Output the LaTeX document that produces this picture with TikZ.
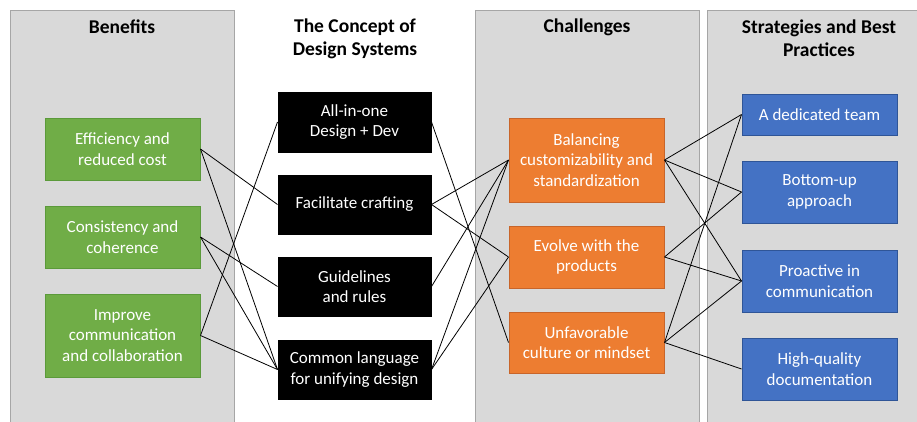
\documentclass[tikz,border=0pt]{standalone}
\usepackage{fontspec}
\setmainfont{Carlito}
\definecolor{panelfill}{HTML}{D9D9D9}
\definecolor{panelline}{HTML}{A6A6A6}
\definecolor{gfill}{HTML}{70AD47}
\definecolor{gline}{HTML}{5B9A3A}
\definecolor{ofill}{HTML}{ED7D31}
\definecolor{oline}{HTML}{C8652A}
\definecolor{bfill}{HTML}{4472C4}
\definecolor{bline}{HTML}{2F5597}
\begin{document}
\begin{tikzpicture}[x=1pt,y=-1pt,
  panel/.style={fill=panelfill,draw=panelline,line width=1pt},
  ttl/.style={font=\fontsize{19.5}{23}\selectfont\bfseries,align=center,text=black},
  box/.style={rectangle,line width=1pt,text=white,align=center,inner sep=0pt,
     font=\fontsize{17}{20.5}\selectfont},
  gbox/.style={box,fill=gfill,draw=gline,minimum width=155pt},
  kbox/.style={box,fill=black,draw=black,minimum width=153pt,minimum height=59pt},
  obox/.style={box,fill=ofill,draw=oline,minimum width=155pt},
  bbox/.style={box,fill=bfill,draw=bline,minimum width=155pt},
  link/.style={draw=black,line width=0.8pt}]
\useasboundingbox (0,0) rectangle (917,421);
\fill[white] (0,0) rectangle (917,421);
% panels
\draw[panel] (10,10) rectangle (234,430);
\draw[panel] (475,10) rectangle (699,430);
\draw[panel] (707,10) rectangle (930,430);
% titles
\node[ttl] (t1) at (122,27) {Benefits};
\node[ttl] (t2) at (355,38.5) {The Concept of\\Design Systems};
\node[ttl] (t3) at (587,27) {Challenges};
\node[ttl] (t4) at (819,38.5) {Strategies and Best\\Practices};
% green
\node[gbox,minimum height=62pt] (g1) at (122.5,149) {Efficiency and\\reduced cost};
\node[gbox,minimum height=62pt] (g2) at (122.5,237) {Consistency and\\coherence};
\node[gbox,minimum height=83pt] (g3) at (122.5,335.5) {Improve\\communication\\and collaboration};
% black
\node[kbox,minimum height=60pt] (k1) at (354.5,122) {All-in-one\\Design + Dev};
\node[kbox] (k2) at (354.5,204.5) {Facilitate crafting};
\node[kbox] (k3) at (354.5,286.5) {Guidelines\\and rules};
\node[kbox] (k4) at (354.5,369.5) {Common language\\for unifying design};
% orange
\node[obox,minimum height=84pt] (o1) at (586.5,160) {Balancing\\customizability and\\standardization};
\node[obox,minimum height=62pt] (o2) at (586.5,257) {Evolve with the\\products};
\node[obox,minimum height=61pt] (o3) at (586.5,342.5) {Unfavorable\\culture or mindset};
% blue
\node[bbox,minimum height=41pt] (s1) at (819.5,114.5) {A dedicated team};
\node[bbox,minimum height=62pt] (s2) at (819.5,192) {Bottom-up\\approach};
\node[bbox,minimum height=62pt] (s3) at (819.5,281) {Proactive in\\communication};
\node[bbox,minimum height=62pt] (s4) at (819.5,369) {High-quality\\documentation};
% links green-black
\draw[link] (g1.east) -- (k2.west);
\draw[link] (g1.east) -- (k4.west);
\draw[link] (g2.east) -- (k3.west);
\draw[link] (g2.east) -- (k4.west);
\draw[link] (g3.east) -- (k1.west);
\draw[link] (g3.east) -- (k4.west);
% black-orange
\draw[link] (k1.east) -- (o3.west);
\draw[link] (k2.east) -- (o1.west);
\draw[link] (k2.east) -- (o2.west);
\draw[link] (k3.east) -- (o1.west);
\draw[link] (k4.east) -- (o1.west);
\draw[link] (k4.east) -- (o2.west);
% orange-blue
\draw[link] (o1.east) -- (s1.west);
\draw[link] (o1.east) -- (s2.west);
\draw[link] (o1.east) -- (s3.west);
\draw[link] (o2.east) -- (s2.west);
\draw[link] (o2.east) -- (s3.west);
\draw[link] (o3.east) -- (s1.west);
\draw[link] (o3.east) -- (s3.west);
\draw[link] (o3.east) -- (s4.west);
\end{tikzpicture}
\end{document}
